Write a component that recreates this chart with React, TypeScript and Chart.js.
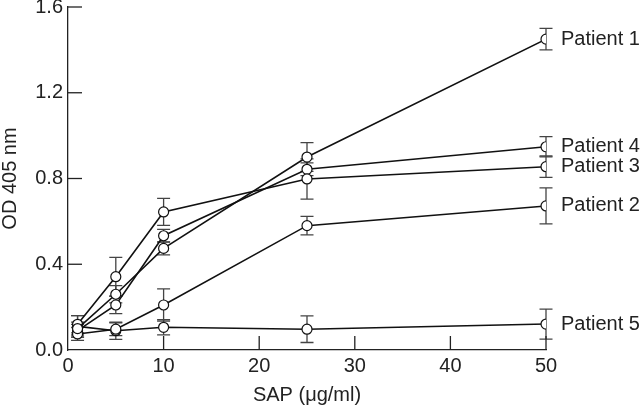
import React, { useEffect, useRef } from "react";
import { Chart, registerables } from "chart.js";

Chart.register(...registerables);

const doses = [1, 5, 10, 25, 50];
const patientNames = ["Patient 1", "Patient 2", "Patient 3", "Patient 4", "Patient 5"];
const patient1 = [0.1, 0.26, 0.474, 0.9, 1.45];
const patient2 = [0.075, 0.097, 0.21, 0.58, 0.672];
const patient3 = [0.12, 0.342, 0.644, 0.798, 0.855];
const patient4 = [0.09, 0.21, 0.533, 0.843, 0.948];
const patient5 = [0.11, 0.09, 0.106, 0.097, 0.121];
const err1 = [0.03, 0.04, 0.03, 0.067, 0.05];
const err2 = [0.03, 0.03, 0.075, 0.043, 0.084];
const err3 = [0.04, 0.09, 0.063, 0.094, 0.05];
const err4 = [0.03, 0.04, 0.03, 0.03, 0.047];
const err5 = [0.05, 0.04, 0.035, 0.062, 0.07];
const xTicks = [0, 10, 20, 30, 40, 50];
const yTicks = [0, 0.4, 0.8, 1.2, 1.6];

const seriesValues = [patient1, patient2, patient3, patient4, patient5];
const seriesErrors = [err1, err2, err3, err4, err5];

const FONT = "'Liberation Sans', Arial, sans-serif";
const TEXT = "#222";

const errorBarPlugin = {
  id: "errorBars",
  beforeDatasetsDraw(chart: any) {
    const { ctx, scales } = chart;
    const xs = scales.x;
    const ys = scales.y;
    ctx.save();
    ctx.strokeStyle = "#444";
    ctx.lineWidth = 1.3;
    seriesValues.forEach((vals, si) => {
      vals.forEach((v, i) => {
        const e = seriesErrors[si][i];
        const px = xs.getPixelForValue(doses[i]);
        const top = ys.getPixelForValue(v + e);
        const bot = ys.getPixelForValue(v - e);
        ctx.beginPath();
        ctx.moveTo(px, top);
        ctx.lineTo(px, bot);
        ctx.moveTo(px - 6.5, top);
        ctx.lineTo(px + 6.5, top);
        ctx.moveTo(px - 6.5, bot);
        ctx.lineTo(px + 6.5, bot);
        ctx.stroke();
      });
    });
    ctx.restore();
  },
  afterDatasetsDraw(chart: any) {
    const { ctx, scales } = chart;
    const xs = scales.x;
    const ys = scales.y;
    ctx.save();
    // inward tick marks
    ctx.strokeStyle = "#222";
    ctx.lineWidth = 1.3;
    const x0 = xs.getPixelForValue(0);
    const yb = ys.getPixelForValue(0);
    yTicks.forEach((t) => {
      if (t === 0) return;
      const py = ys.getPixelForValue(t);
      ctx.beginPath();
      ctx.moveTo(x0, py);
      ctx.lineTo(x0 + 14, py);
      ctx.stroke();
    });
    xTicks.forEach((t) => {
      if (t === 0) return;
      const px = xs.getPixelForValue(t);
      ctx.beginPath();
      ctx.moveTo(px, yb);
      ctx.lineTo(px, yb - 14);
      ctx.stroke();
    });
    // series labels
    ctx.fillStyle = TEXT;
    ctx.font = `20px ${FONT}`;
    ctx.textAlign = "left";
    ctx.textBaseline = "middle";
    seriesValues.forEach((vals, si) => {
      const last = vals.length - 1;
      const px = xs.getPixelForValue(doses[last]) + 15;
      const py = ys.getPixelForValue(vals[last]);
      ctx.fillText(patientNames[si], px, py);
    });
    ctx.restore();
  },
};

export default function App() {
  const ref = useRef<HTMLCanvasElement>(null);
  useEffect(() => {
    if (!ref.current) return;
    const chart = new Chart(ref.current, {
      type: "line",
      data: {
        datasets: seriesValues.map((vals, si) => ({
          label: patientNames[si],
          data: vals.map((v, i) => ({ x: doses[i], y: v })),
          borderColor: "#111",
          borderWidth: 1.6,
          pointRadius: 5,
          pointBackgroundColor: "#fff",
          pointBorderColor: "#111",
          pointBorderWidth: 1.2,
          tension: 0,
          fill: false,
        })),
      },
      options: {
        responsive: false,
        animation: false,
        devicePixelRatio: 1,
        layout: { padding: { top: 7, right: 94, left: 0, bottom: 0 } },
        plugins: { legend: { display: false }, tooltip: { enabled: false } },
        scales: {
          x: {
            type: "linear",
            min: 0,
            max: 50,
            afterBuildTicks: (axis: any) => {
              axis.ticks = xTicks.map((v) => ({ value: v }));
            },
            afterFit: (axis: any) => {
              axis.height = 58;
              axis.paddingLeft = 0;
              axis.paddingRight = 0;
            },
            grid: { display: false, drawTicks: false },
            border: { display: true, color: "#222", width: 1.3 },
            ticks: {
              padding: 4,
              color: TEXT,
              font: { family: FONT, size: 20 },
              maxRotation: 0,
              callback: (v: any) => String(v),
            },
            title: {
              display: true,
              text: "SAP (μg/ml)",
              color: TEXT,
              font: { family: FONT, size: 20, lineHeight: 1 },
              padding: { top: 0, bottom: 3 },
            },
          },
          y: {
            type: "linear",
            min: 0,
            max: 1.6,
            afterBuildTicks: (axis: any) => {
              axis.ticks = yTicks.map((v) => ({ value: v }));
            },
            afterFit: (axis: any) => {
              axis.width = 68;
              axis.paddingTop = 0;
              axis.paddingBottom = 0;
            },
            grid: { display: false, drawTicks: false },
            border: { display: true, color: "#222", width: 1.3 },
            ticks: {
              padding: 5,
              color: TEXT,
              font: { family: FONT, size: 20 },
              callback: (v: any) => Number(v).toFixed(1),
            },
            title: {
              display: true,
              text: "OD 405 nm",
              color: TEXT,
              font: { family: FONT, size: 20, lineHeight: 1 },
              padding: { top: 0, bottom: 0 },
            },
          },
        },
      },
      plugins: [errorBarPlugin],
    } as any);
    return () => chart.destroy();
  }, []);
  return (
    <div style={{ position: "absolute", left: 0, top: 0, width: 640, height: 408, background: "#fff" }}>
      <canvas ref={ref} width={640} height={408} />
    </div>
  );
}
